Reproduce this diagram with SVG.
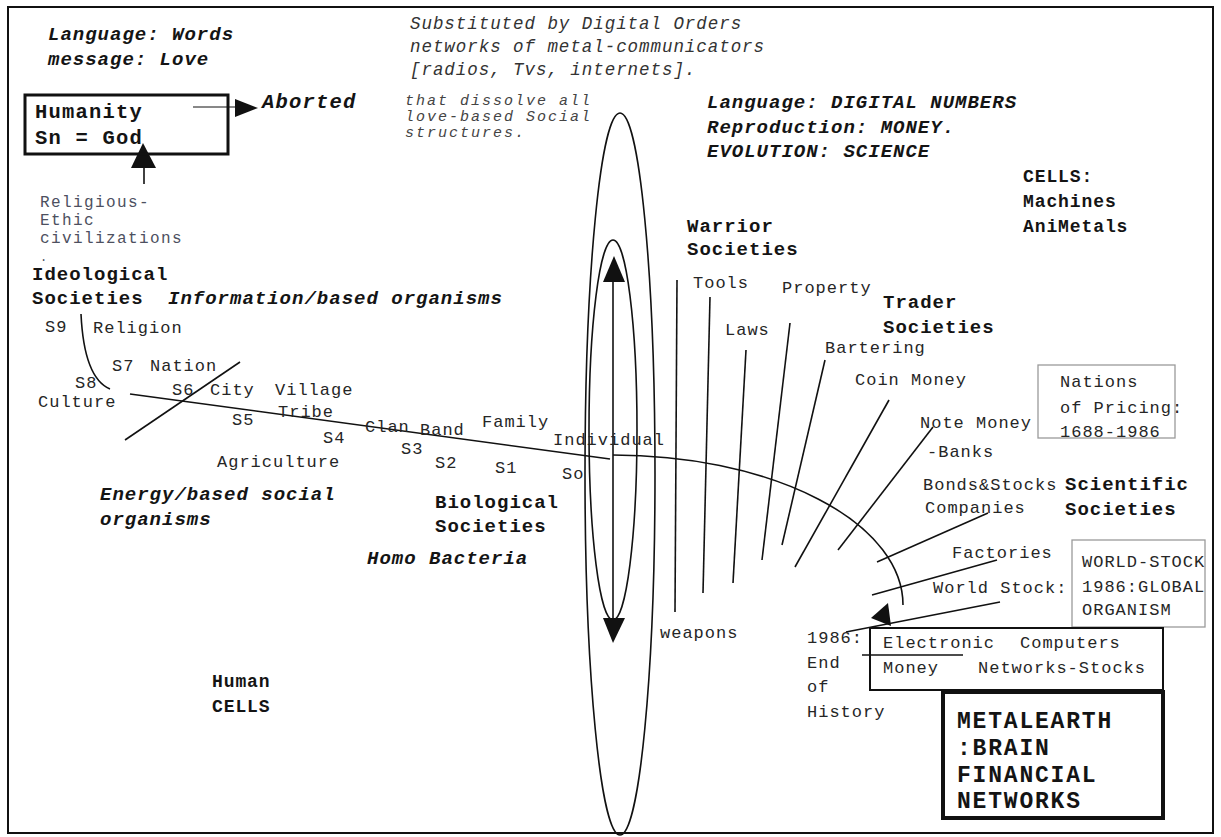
<svg xmlns="http://www.w3.org/2000/svg" width="1221" height="837" viewBox="0 0 1221 837">
<style>
text{font-family:"Liberation Mono","Courier New",monospace;fill:#141414}
.r{font-size:17px;letter-spacing:1px;fill:#262626}
.b{font-size:19px;letter-spacing:1px;font-weight:bold}
.bi{font-size:19px;letter-spacing:1px;font-weight:bold;font-style:italic}
.i{font-size:17.5px;letter-spacing:0.95px;font-style:italic;fill:#333}
.s{font-size:15px;letter-spacing:2px;font-style:italic;fill:#444}
.g{font-size:16px;letter-spacing:1.4px;fill:#4d5060}
.big{font-size:20.5px;letter-spacing:1.2px}
.mid{font-size:18px;letter-spacing:0.9px}
.huge{font-size:23px;letter-spacing:1.8px}
.ln{stroke:#111;stroke-width:1.6;fill:none}
.box{fill:none;stroke:#111}
.gbox{fill:none;stroke:#9a9a9a;stroke-width:1.3}
</style>
<rect x="0" y="0" width="1221" height="837" fill="#fff"/>
<rect x="8" y="7" width="1205" height="826" fill="none" stroke="#111" stroke-width="2"/>

<g id="connectors">
  <ellipse cx="620" cy="474" rx="35" ry="361" class="ln"/>
  <ellipse cx="613" cy="430" rx="24" ry="190" class="ln"/>
  <line x1="613" y1="280" x2="613" y2="620" class="ln"/>
  <polygon points="603,282 625,282 614,256" fill="#111"/>
  <polygon points="603,618 625,618 613,643" fill="#111"/>
  <line x1="130" y1="394" x2="610" y2="459" class="ln"/>
  <path d="M613,455 A290,150 0 0 1 903,605" class="ln"/>
  <line x1="125" y1="440" x2="240" y2="362" class="ln" stroke-width="2"/>
  <path d="M81,314 Q84,378 110,389" class="ln"/>
  <line x1="193" y1="107" x2="236" y2="107" stroke="#111" stroke-width="1"/>
  <polygon points="235,99 258,108 235,117" fill="#111"/>
  <line x1="144" y1="166" x2="144" y2="184" class="ln" stroke-width="2"/>
  <polygon points="131,168 156,168 143,143" fill="#111"/>
  <line x1="677" y1="280" x2="675" y2="612" class="ln"/>
  <line x1="710" y1="297" x2="703" y2="593" class="ln"/>
  <line x1="746" y1="350" x2="733" y2="583" class="ln" stroke-width="3.5"/>
  <line x1="790" y1="323" x2="762" y2="560" class="ln"/>
  <line x1="825" y1="360" x2="782" y2="545" class="ln"/>
  <line x1="889" y1="400" x2="795" y2="567" class="ln"/>
  <line x1="933" y1="427" x2="838" y2="550" class="ln" stroke-width="5"/>
  <line x1="988" y1="513" x2="877" y2="562" class="ln"/>
  <line x1="997" y1="560" x2="872" y2="595" class="ln"/>
  <line x1="1000" y1="602" x2="846" y2="632" class="ln"/>
  <polygon points="871,618 888,603 891,626" fill="#111"/>
  <line x1="862" y1="655" x2="963" y2="655" class="ln"/>
</g>

<g id="header-words">
  <text class="bi" x="48" y="40">Language: Words</text>
  <text class="bi" x="48" y="65">message: Love</text>
</g>
<g id="humanity">
  <rect x="25" y="95" width="203" height="59" class="box" stroke-width="3"/>
  <text class="b big" x="35" y="118">Humanity</text>
  <text class="b big" x="35" y="144">Sn = God</text>
</g>
<g id="aborted">
  <text class="bi big" x="262" y="108">Aborted</text>
</g>
<g id="substituted">
  <text class="i" x="410" y="29">Substituted by Digital Orders</text>
  <text class="i" x="410" y="52">networks of metal-communicators</text>
  <text class="i" x="410" y="75">[radios, Tvs, internets].</text>
</g>
<g id="dissolve">
  <text class="s" x="405" y="105">that dissolve all</text>
  <text class="s" x="405" y="121">love-based Social</text>
  <text class="s" x="405" y="137">structures.</text>
</g>
<g id="header-digital">
  <text class="bi" x="707" y="108">Language: DIGITAL NUMBERS</text>
  <text class="bi" x="707" y="133">Reproduction: MONEY.</text>
  <text class="bi" x="707" y="157">EVOLUTION: SCIENCE</text>
</g>
<g id="cells-machines">
  <text class="b mid" x="1023" y="182">CELLS:</text>
  <text class="b mid" x="1023" y="207">Machines</text>
  <text class="b mid" x="1023" y="232">AniMetals</text>
</g>
<g id="religious">
  <text class="g" x="40" y="207">Religious-</text>
  <text class="g" x="40" y="225">Ethic</text>
  <text class="g" x="40" y="243">civilizations</text>
  <text class="g" x="40" y="261" style="font-size:12px">.</text>
</g>
<g id="ideological">
  <text class="b" x="32" y="280">Ideological</text>
  <text class="b" x="32" y="304">Societies</text>
</g>
<g id="information">
  <text class="bi" x="168" y="304">Information/based organisms</text>
</g>
<g id="s9"><text class="r" x="45" y="332">S9</text><text class="r" x="93" y="333">Religion</text></g>
<g id="s7"><text class="r" x="112" y="371">S7</text><text class="r" x="150" y="371">Nation</text></g>
<g id="s8"><text class="r" x="75" y="388">S8</text><text class="r" x="38" y="407">Culture</text></g>
<g id="s6"><text class="r" x="172" y="395">S6</text><text class="r" x="210" y="395">City</text></g>
<g id="s5"><text class="r" x="232" y="425">S5</text></g>
<g id="village"><text class="r" x="275" y="395">Village</text><text class="r" x="278" y="417">Tribe</text></g>
<g id="s4"><text class="r" x="323" y="443">S4</text></g>
<g id="agriculture"><text class="r" x="217" y="467">Agriculture</text></g>
<g id="clan"><text class="r" x="365" y="432">Clan</text><text class="r" x="420" y="435">Band</text></g>
<g id="s3"><text class="r" x="401" y="454">S3</text></g>
<g id="s2"><text class="r" x="435" y="468">S2</text></g>
<g id="family"><text class="r" x="482" y="427">Family</text></g>
<g id="s1"><text class="r" x="495" y="473">S1</text></g>
<g id="individual"><text class="r" x="553" y="445">Individual</text><text class="r" x="562" y="479">So</text></g>
<g id="energy">
  <text class="bi" x="100" y="500">Energy/based social</text>
  <text class="bi" x="100" y="525">organisms</text>
</g>
<g id="biological">
  <text class="b" x="435" y="508">Biological</text>
  <text class="b" x="435" y="532">Societies</text>
</g>
<g id="homo"><text class="bi" x="367" y="564">Homo Bacteria</text></g>
<g id="human-cells">
  <text class="b mid" x="212" y="687">Human</text>
  <text class="b mid" x="212" y="712">CELLS</text>
</g>
<g id="warrior">
  <text class="b" x="687" y="232">Warrior</text>
  <text class="b" x="687" y="255">Societies</text>
</g>
<g id="tools"><text class="r" x="693" y="288">Tools</text></g>
<g id="property"><text class="r" x="782" y="293">Property</text></g>
<g id="trader">
  <text class="b" x="883" y="308">Trader</text>
  <text class="b" x="883" y="333">Societies</text>
</g>
<g id="laws"><text class="r" x="725" y="335">Laws</text></g>
<g id="bartering"><text class="r" x="825" y="353">Bartering</text></g>
<g id="coin"><text class="r" x="855" y="385">Coin Money</text></g>
<g id="note"><text class="r" x="920" y="428">Note Money</text><text class="r" x="927" y="457">-Banks</text></g>
<g id="nations">
  <rect x="1038" y="365" width="137" height="73" class="gbox"/>
  <text class="r" x="1060" y="387">Nations</text>
  <text class="r" x="1060" y="413">of Pricing:</text>
  <text class="r" x="1060" y="437">1688-1986</text>
</g>
<g id="bonds"><text class="r" x="923" y="490">Bonds&amp;Stocks</text><text class="r" x="925" y="513">Companies</text></g>
<g id="scientific">
  <text class="b" x="1065" y="490">Scientific</text>
  <text class="b" x="1065" y="515">Societies</text>
</g>
<g id="factories"><text class="r" x="952" y="558">Factories</text></g>
<g id="worldstock"><text class="r" x="933" y="593">World Stock:</text></g>
<g id="world-stock-box">
  <rect x="1072" y="540" width="133" height="87" class="gbox"/>
  <text class="r" x="1082" y="567">WORLD-STOCK</text>
  <text class="r" x="1082" y="592">1986:GLOBAL</text>
  <text class="r" x="1082" y="615">ORGANISM</text>
</g>
<g id="weapons"><text class="r" x="660" y="638">weapons</text></g>
<g id="end-history">
  <text class="r" x="807" y="643">1986:</text>
  <text class="r" x="807" y="668">End</text>
  <text class="r" x="807" y="692">of</text>
  <text class="r" x="807" y="717">History</text>
</g>
<g id="electronic">
  <rect x="870" y="628" width="293" height="62" class="box" stroke-width="2"/>
  <text class="r" x="883" y="648">Electronic</text>
  <text class="r" x="883" y="673">Money</text>
  <text class="r" x="1020" y="648">Computers</text>
  <text class="r" x="978" y="673">Networks-Stocks</text>
</g>
<g id="metalearth">
  <rect x="943" y="692" width="220" height="126" class="box" stroke-width="4"/>
  <text class="b huge" x="957" y="728">METALEARTH</text>
  <text class="b huge" x="957" y="755">:BRAIN</text>
  <text class="b huge" x="957" y="782">FINANCIAL</text>
  <text class="b huge" x="957" y="808">NETWORKS</text>
</g>
</svg>
